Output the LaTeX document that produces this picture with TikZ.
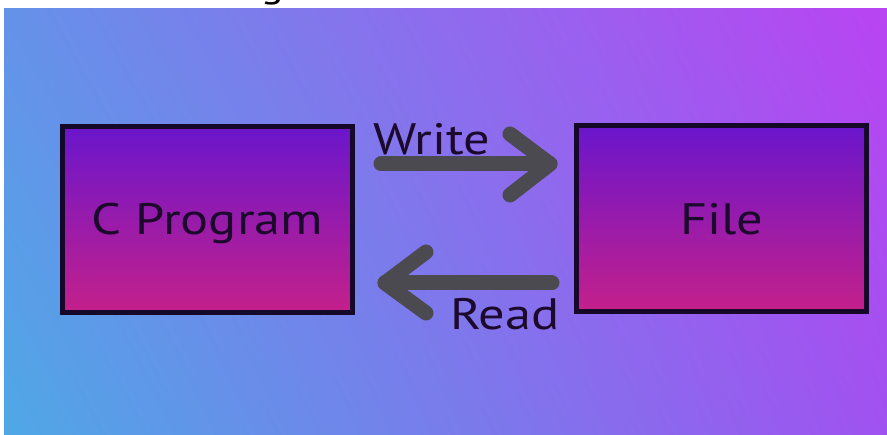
\documentclass[tikz,border=0pt]{standalone}
\usepackage{fontspec}
\usetikzlibrary{shadings}
\setmainfont{PT Sans}[FakeStretch=1.19]
\definecolor{bgUL}{RGB}{101,146,233}
\definecolor{bgUR}{RGB}{185,68,242}
\definecolor{bgLL}{RGB}{79,168,230}
\definecolor{bgLR}{RGB}{160,82,240}
\definecolor{boxtop}{RGB}{106,22,204}
\definecolor{boxbot}{RGB}{196,32,138}
\definecolor{boxline}{RGB}{22,8,40}
\definecolor{arrgray}{RGB}{74,74,80}
\definecolor{txt}{RGB}{28,10,44}
\begin{document}
\begin{tikzpicture}[x=1pt,y=-1pt,
  box/.style={draw=boxline, line width=5pt, top color=boxtop, bottom color=boxbot,
    minimum width=290pt, minimum height=186pt, inner sep=0pt,
    font=\fontsize{44}{48}\selectfont, text=txt, text height=31pt, text depth=0pt},
  arr/.style={draw=arrgray, line width=15pt, line cap=round, line join=round},
  lbl/.style={font=\fontsize{44}{48}\selectfont, text=txt, inner sep=0pt}]
\useasboundingbox (0,0) rectangle (887,435);
\fill[white] (0,0) rectangle (887,435);
\shade[upper left=bgUL, upper right=bgUR, lower left=bgLL, lower right=bgLR]
  (4,9) rectangle (887,435);
\node[anchor=south, inner sep=0pt, font=\fontsize{36}{40}\selectfont] (title) at (272,5.5) {g};
\node[box] (prog) at (207.5,219.5) {C Program};
\node[box] (file) at (721.5,219) {File};
% Write arrow
\coordinate (ws) at (381,164);
\coordinate (wt) at (550,164);
\coordinate (wa) at (510,134);
\coordinate (wb) at (510,195);
\draw[arr] (ws) -- (wt);
\draw[arr] (wa) -- (wt) -- (wb);
\node[lbl, anchor=base west] (write) at (373,155) {Write};
% Read arrow
\coordinate (rs) at (552,283);
\coordinate (rt) at (385,283);
\coordinate (ra) at (426,252);
\coordinate (rb) at (426,313);
\draw[arr] (rs) -- (rt);
\draw[arr] (ra) -- (rt) -- (rb);
\node[lbl, anchor=base west] (read) at (450,330) {Read};
\end{tikzpicture}
\end{document}
